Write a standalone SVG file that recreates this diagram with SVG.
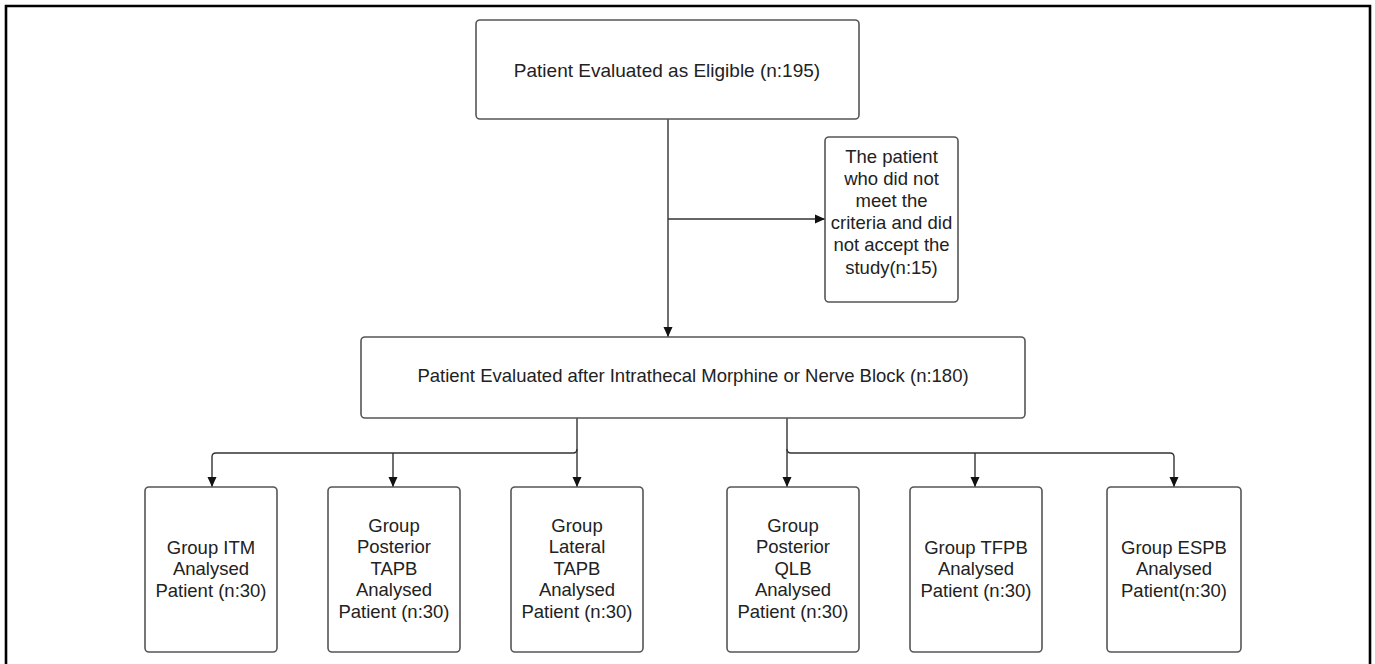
<svg xmlns="http://www.w3.org/2000/svg" width="1375" height="664" viewBox="0 0 1375 664">
<style>
.box{fill:#fff;stroke:#555;stroke-width:1.6}
.t{font-family:"Liberation Sans",Arial,sans-serif;font-size:18.5px;fill:#222;text-anchor:middle}
.c{fill:none;stroke:#333;stroke-width:1.4}
</style>
<defs>
<marker id="ah" viewBox="0 0 10 10" refX="10" refY="5" markerWidth="10" markerHeight="10" markerUnits="userSpaceOnUse" orient="auto">
<path d="M0,0.5 L10,5 L0,9.5 Z" fill="#111"/>
</marker>
</defs>
<rect width="1375" height="664" fill="#fff"/>
<path d="M6,670 V6 H1370 V670" fill="none" stroke="#000" stroke-width="2.6"/>
<g id="connectors">
<path class="c" d="M668,119 V337" marker-end="url(#ah)"/>
<path class="c" d="M668,219 H825" marker-end="url(#ah)"/>
<path class="c" d="M577,418 V449 Q577,453 573,453 H216 Q212,453 212,457 V487" marker-end="url(#ah)"/>
<path class="c" d="M393,453 V487" marker-end="url(#ah)"/>
<path class="c" d="M577,449 V487" marker-end="url(#ah)"/>
<path class="c" d="M787,418 V487" marker-end="url(#ah)"/>
<path class="c" d="M787,449 Q787,453 791,453 H1170 Q1174,453 1174,457 V487" marker-end="url(#ah)"/>
<path class="c" d="M975,453 V487" marker-end="url(#ah)"/>
</g>
<g id="n-eligible">
<rect class="box" x="476" y="20" width="383" height="99" rx="4"/>
<text class="t" x="667" y="77" style="font-size:19px">Patient Evaluated as Eligible (n:195)</text>
</g>
<g id="n-excluded">
<rect class="box" x="825" y="137" width="133" height="165" rx="4"/>
<text class="t" x="891.5" y="162.5">The patient</text>
<text class="t" x="891.5" y="184.7">who did not</text>
<text class="t" x="891.5" y="206.9">meet the</text>
<text class="t" x="891.5" y="229.1">criteria and did</text>
<text class="t" x="891.5" y="251.3">not accept the</text>
<text class="t" x="891.5" y="273.5">study(n:15)</text>
</g>
<g id="n-evaluated">
<rect class="box" x="361" y="337" width="664" height="81" rx="4"/>
<text class="t" x="693" y="382">Patient Evaluated after Intrathecal Morphine or Nerve Block (n:180)</text>
</g>
<g id="n-itm">
<rect class="box" x="145" y="487" width="132" height="165" rx="4"/>
<text class="t" x="211" y="553.5">Group ITM</text>
<text class="t" x="211" y="575">Analysed</text>
<text class="t" x="211" y="596.5">Patient (n:30)</text>
</g>
<g id="n-ptapb">
<rect class="box" x="328" y="487" width="132" height="165" rx="4"/>
<text class="t" x="394" y="531.5">Group</text>
<text class="t" x="394" y="553">Posterior</text>
<text class="t" x="394" y="574.5">TAPB</text>
<text class="t" x="394" y="596">Analysed</text>
<text class="t" x="394" y="617.5">Patient (n:30)</text>
</g>
<g id="n-ltapb">
<rect class="box" x="511" y="487" width="132" height="165" rx="4"/>
<text class="t" x="577" y="531.5">Group</text>
<text class="t" x="577" y="553">Lateral</text>
<text class="t" x="577" y="574.5">TAPB</text>
<text class="t" x="577" y="596">Analysed</text>
<text class="t" x="577" y="617.5">Patient (n:30)</text>
</g>
<g id="n-pqlb">
<rect class="box" x="727" y="487" width="132" height="165" rx="4"/>
<text class="t" x="793" y="531.5">Group</text>
<text class="t" x="793" y="553">Posterior</text>
<text class="t" x="793" y="574.5">QLB</text>
<text class="t" x="793" y="596">Analysed</text>
<text class="t" x="793" y="617.5">Patient (n:30)</text>
</g>
<g id="n-tfpb">
<rect class="box" x="910" y="487" width="132" height="165" rx="4"/>
<text class="t" x="976" y="553.5">Group TFPB</text>
<text class="t" x="976" y="575">Analysed</text>
<text class="t" x="976" y="596.5">Patient (n:30)</text>
</g>
<g id="n-espb">
<rect class="box" x="1107" y="487" width="134" height="165" rx="4"/>
<text class="t" x="1174" y="553.5">Group ESPB</text>
<text class="t" x="1174" y="575">Analysed</text>
<text class="t" x="1174" y="596.5">Patient(n:30)</text>
</g>
</svg>
